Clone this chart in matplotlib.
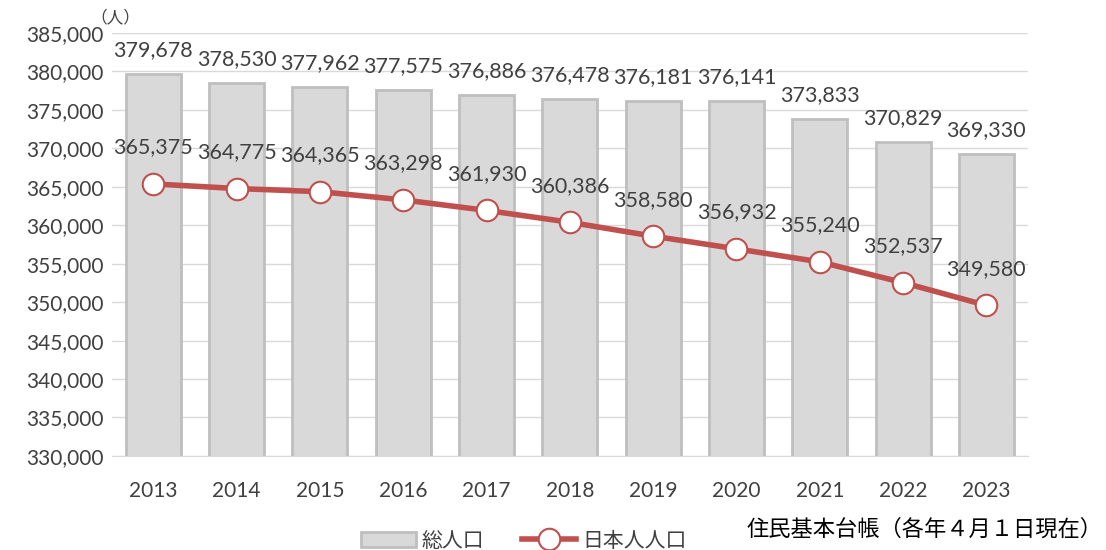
import matplotlib
matplotlib.use("Agg")
import matplotlib.pyplot as plt
import numpy as np

plt.rcParams['font.family'] = ['Lato', 'Noto Sans CJK JP', 'DejaVu Sans']

years = ['2013', '2014', '2015', '2016', '2017', '2018', '2019', '2020',
         '2021', '2022', '2023']
total_pop = [379678, 378530, 377962, 377575, 376886, 376478, 376181, 376141,
             373833, 370829, 369330]
japanese_pop = [365375, 364775, 364365, 363298, 361930, 360386, 358580,
                356932, 355240, 352537, 349580]
yticks = np.arange(330000, 385001, 5000)

BAR = '#d9d9d9'
BAR_EDGE = '#bfbfbf'
RED = '#c0504d'
TXT = '#404040'
JP = ['Noto Sans CJK JP', 'DejaVu Sans']

fig = plt.figure(figsize=(11.06, 5.5), dpi=100)
ax = fig.add_axes([0.101, 0.171, 0.8285, 0.769])

x = np.arange(len(years))
bars = ax.bar(x, total_pop, width=0.66, color=BAR, edgecolor=BAR_EDGE,
              linewidth=2, zorder=2, label='総人口')
line, = ax.plot(x, japanese_pop, color=RED, linewidth=4, marker='o',
                markersize=15.5, markerfacecolor='white', markeredgecolor=RED,
                markeredgewidth=1.5, zorder=3, label='日本人人口')

# data labels
for xi, v in zip(x, total_pop):
    ax.annotate(f'{v:,}', (xi, v), xytext=(0, 10), textcoords='offset points',
                ha='center', va='bottom', fontsize=15.5, color=TXT)
for xi, v in zip(x, japanese_pop):
    ax.annotate(f'{v:,}', (xi, v), xytext=(0, 19), textcoords='offset points',
                ha='center', va='bottom', fontsize=15.5, color=TXT)

ax.set_xlim(-0.5, len(years) - 0.5)
ax.set_ylim(330000, 385000)
ax.set_yticks(yticks)
ax.set_yticklabels([f'{t:,}' for t in yticks])
ax.set_xticks(x)
ax.set_xticklabels(years)
ax.tick_params(axis='both', length=0, labelsize=15, labelcolor=TXT)
ax.tick_params(axis='x', pad=18)
ax.tick_params(axis='y', pad=6)
ax.grid(axis='y', color='#d9d9d9', linewidth=1, zorder=0)
ax.set_axisbelow(True)
for s in ['top', 'right', 'left']:
    ax.spines[s].set_visible(False)
ax.spines['bottom'].set_color('#d9d9d9')

fig.text(0.082, 0.968, '（人）', fontsize=12, color=TXT, ha='left',
         va='center', family=JP)

ax.legend([bars, line], ['総人口', '日本人人口'], loc='center',
          bbox_to_anchor=(0.45, -0.2), ncol=2, frameon=False,
          prop={'family': JP, 'size': 15}, handlelength=2.6,
          columnspacing=1.8, handletextpad=0.3, labelcolor=TXT)
fig.text(0.997, 0.038, '住民基本台帳（各年４月１日現在）', fontsize=16,
         color='black', ha='right', va='center', family=JP)

fig.savefig('out.png', dpi=100)
